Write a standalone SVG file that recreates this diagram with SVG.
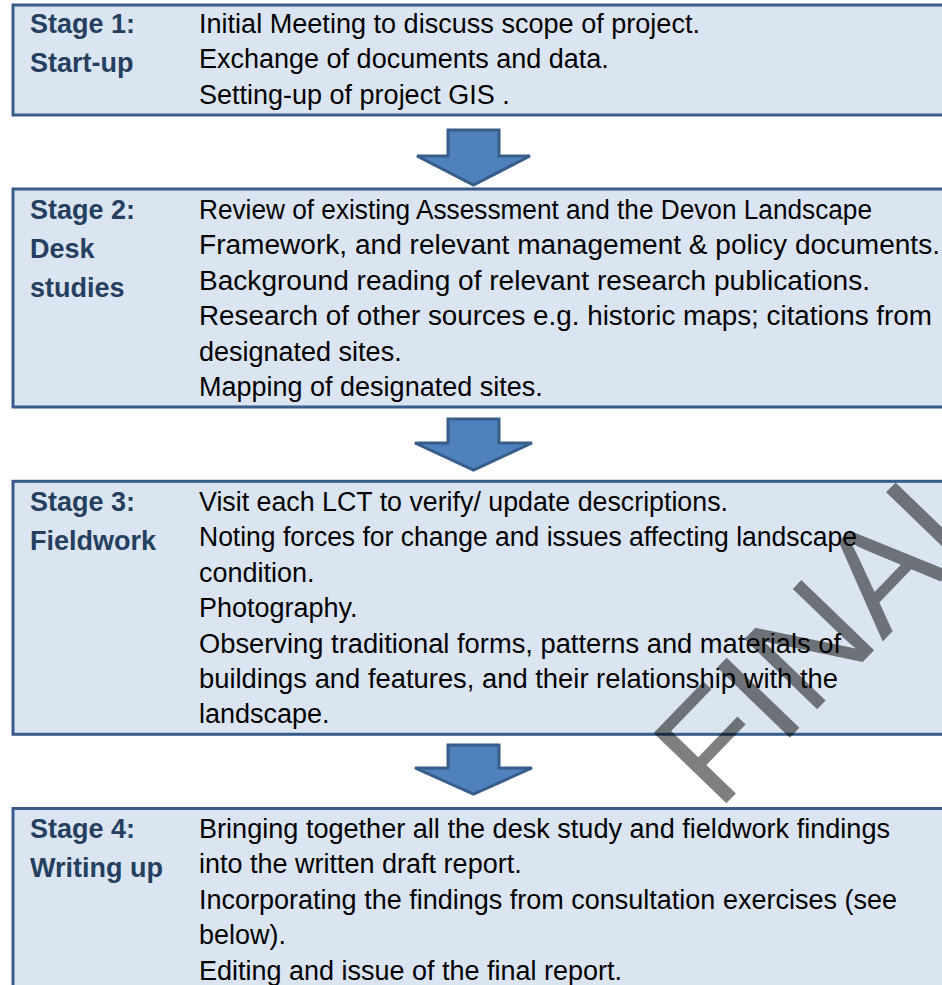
<svg xmlns="http://www.w3.org/2000/svg" width="942" height="985" viewBox="0 0 942 985">
<style>
.box{fill:#DBE5F1;stroke:#385D8A;stroke-width:3}
.lbl{font-family:"Liberation Sans",Arial,sans-serif;font-weight:bold;font-size:27px;fill:#243F60}
.txt{font-family:"Liberation Sans",Arial,sans-serif;font-size:27px;fill:#000}
.arr{fill:#4F81BD;stroke:#385D8A;stroke-width:3;stroke-linejoin:miter}
.wm{font-family:"Liberation Sans",Arial,sans-serif;font-size:147px;fill:#000;fill-opacity:0.5}
</style>
<rect width="942" height="985" fill="#fff"/>
<g id="stage1">
<rect class="box" x="13" y="5" width="940" height="110"/>
<text class="lbl" x="30" y="33">Stage 1:</text>
<text class="lbl" x="30" y="72">Start-up</text>
<text class="txt" x="199" y="33" textLength="501" lengthAdjust="spacingAndGlyphs">Initial Meeting to discuss scope of project.</text>
<text class="txt" x="199" y="68.4">Exchange of documents and data.</text>
<text class="txt" x="199" y="103.8">Setting-up of project GIS .</text>
</g>
<g id="stage2">
<rect class="box" x="13" y="189" width="940" height="218"/>
<text class="lbl" x="30" y="219">Stage 2:</text>
<text class="lbl" x="30" y="258">Desk</text>
<text class="lbl" x="30" y="297">studies</text>
<text class="txt" x="199" y="219" textLength="673" lengthAdjust="spacingAndGlyphs">Review of existing Assessment and the Devon Landscape</text>
<text class="txt" x="199" y="254.4" textLength="741" lengthAdjust="spacingAndGlyphs">Framework, and relevant management &amp; policy documents.</text>
<text class="txt" x="199" y="289.8" textLength="671" lengthAdjust="spacingAndGlyphs">Background reading of relevant research publications.</text>
<text class="txt" x="199" y="325.2" textLength="733" lengthAdjust="spacingAndGlyphs">Research of other sources e.g. historic maps; citations from</text>
<text class="txt" x="199" y="360.6">designated sites.</text>
<text class="txt" x="199" y="396">Mapping of designated sites.</text>
</g>
<g id="stage3">
<rect class="box" x="13" y="481.3" width="940" height="253"/>
<text class="lbl" x="30" y="511">Stage 3:</text>
<text class="lbl" x="30" y="550">Fieldwork</text>
<text class="txt" x="199" y="511" textLength="529" lengthAdjust="spacingAndGlyphs">Visit each LCT to verify/ update descriptions.</text>
<text class="txt" x="199" y="546.4" textLength="658" lengthAdjust="spacingAndGlyphs">Noting forces for change and issues affecting landscape</text>
<text class="txt" x="199" y="581.8">condition.</text>
<text class="txt" x="199" y="617.2">Photography.</text>
<text class="txt" x="199" y="652.6" textLength="642" lengthAdjust="spacingAndGlyphs">Observing traditional forms, patterns and materials of</text>
<text class="txt" x="199" y="688" textLength="639" lengthAdjust="spacingAndGlyphs">buildings and features, and their relationship with the</text>
<text class="txt" x="199" y="723.4">landscape.</text>
</g>
<g id="stage4">
<rect class="box" x="13" y="808.5" width="940" height="200"/>
<text class="lbl" x="30" y="838">Stage 4:</text>
<text class="lbl" x="30" y="877">Writing up</text>
<text class="txt" x="199" y="838" textLength="691" lengthAdjust="spacingAndGlyphs">Bringing together all the desk study and fieldwork findings</text>
<text class="txt" x="199" y="873.4">into the written draft report.</text>
<text class="txt" x="199" y="908.8" textLength="698" lengthAdjust="spacingAndGlyphs">Incorporating the findings from consultation exercises (see</text>
<text class="txt" x="199" y="944.2">below).</text>
<text class="txt" x="199" y="979.6" textLength="423" lengthAdjust="spacingAndGlyphs">Editing and issue of the final report.</text>
</g>
<g id="connectors">
<path class="arr" d="M448,130 H499 V156 H530 L473.5,185 L417,156 H448 Z"/>
<path class="arr" d="M448,419 H499 V443 H532 L473.5,470 L415,443 H448 Z"/>
<path class="arr" d="M448,745 H499 V768 H532 L473.5,794 L415,768 H448 Z"/>
</g>
<text class="wm" x="0" y="0" transform="translate(718,812) rotate(-46)">FINAL</text>
</svg>
